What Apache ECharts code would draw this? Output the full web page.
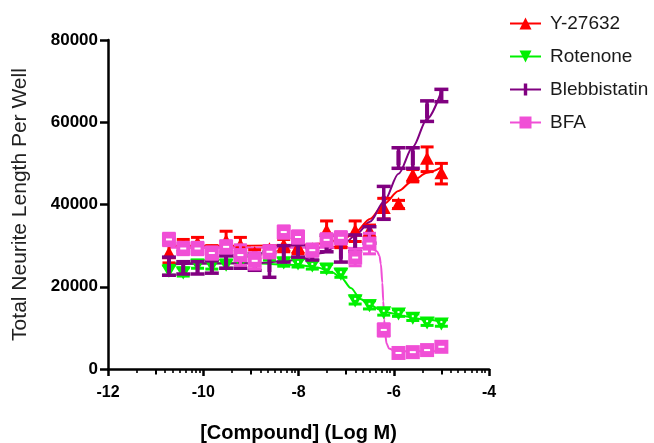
<!DOCTYPE html>
<html><head><meta charset="utf-8">
<script src="https://cdn.jsdelivr.net/npm/echarts@6/dist/echarts.min.js"></script>
<style>html,body{margin:0;padding:0;background:#fff}#chart{width:654px;height:443px}</style>
</head><body><div id="chart"></div>
<script>
// ---- data (log M concentrations) ----
const logConc = [-10.72,-10.42,-10.12,-9.82,-9.52,-9.22,-8.92,-8.61,-8.31,-8.01,-7.71,-7.41,-7.11,-6.81,-6.51,-6.21,-5.90,-5.60,-5.30,-5.00];

const y27632    = [28000,30000,30500,28500,31000,30000,28000,29000,30000,29500,29000,33500,31000,33500,33500,39000,40000,47000,51000,47500];
const y27632Err = [2200,1500,1500,1500,2500,2000,1000,1000,1500,1500,1000,2500,1500,2500,1500,2500,1000,1500,3000,2500];

const rotenone    = [24000,23600,25500,25300,25500,26000,27000,27500,26000,25800,25300,24500,23300,16800,15600,13900,13600,12600,11400,11200];
const rotenoneErr = [1200,1000,1000,1000,1000,1000,1000,1000,1000,1000,1000,1000,1000,1000,1000,800,800,800,800,800];

const blebbistatin    = [25000,24600,24600,24800,26000,26000,26000,25300,28000,28700,28000,30500,28500,30600,32600,40400,51300,51300,62700,66500];
const blebbistatinErr = [2200,1500,1500,1500,1500,1500,2000,3000,2000,1500,1500,2000,2500,2000,2000,4000,2500,2500,2500,1500];

const bfa    = [31500,29300,29300,28200,29700,27700,26300,28500,33300,32100,28900,31400,31900,27100,30500,9500,3900,4100,4600,5400];
const bfaErr = [1500,1500,1500,1500,1500,2500,2000,1500,1500,1500,1500,1500,1500,2000,2500,1500,800,800,800,800];

// fitted curves
const y27632FitX = [-10.72,-9,-8,-7.5,-7.2,-7.0,-6.8,-6.5,-6.2,-5.9,-5.6,-5.3,-5.0];
const y27632FitY = [30000,30000,30100,30500,31300,32000,33300,36500,40200,43300,45800,47700,49000];

const rotenoneFitX = [-10.72,-9,-8,-7.6,-7.3,-7.1,-6.9,-6.7,-6.5,-6.3,-6.1,-5.8,-5.4,-5.0];
const rotenoneFitY = [25700,25700,25300,24700,23500,22200,19700,17000,15600,14500,13700,12900,12100,11600];

const blebFitX = [-10.72,-9,-8,-7.5,-7.2,-7.0,-6.8,-6.5,-6.2,-5.9,-5.6,-5.3,-5.0];
const blebFitY = [25500,25700,26500,28200,29800,30900,32600,35800,40800,47500,54000,60800,67500];

const bfaFitX = [-10.72,-8,-7,-6.6,-6.45,-6.35,-6.3,-6.27,-6.24,-6.22,-6.2,-6.18,-6.15,-6.1,-6.0,-5.8,-5.0];
const bfaFitY = [29500,29500,29500,29400,29200,28600,27500,25500,21000,16500,12000,8500,6200,5000,4500,4300,4300];

// axis ticks
const xLabelTicks = [-12,-10,-8,-6,-4];
const xMidTicks = [-11,-9,-7,-5];
const xMinorTicks = [-11.4,-10.8,-10.65,-10.5,-10.37,-10.25,-10.15,-10.08,
                     -9.4,-8.8,-8.65,-8.5,-8.37,-8.25,-8.15,-8.08,
                     -7.4,-6.8,-6.65,-6.5,-6.37,-6.25,-6.15,-6.08,
                     -5.4,-4.8,-4.65,-4.5,-4.37,-4.25,-4.15,-4.08];
const yTicks = [0,20000,40000,60000,80000];

const names = ['Y-27632','Rotenone','Blebbistatin','BFA'];
const colors = ['#ff0000','#00f000','#800080','#f04fd6'];

// ---- chart ----
const FONT = "'Liberation Sans', Arial, sans-serif";
const chart = echarts.init(document.getElementById('chart'));
const pts = (ys, es) => logConc.map((x,i)=>[x, ys[i], es[i]]);
const curve = (xs, ys) => xs.map((x,i)=>[x, ys[i]]);

function makeRender(color, kind){
  return function(params, api){
    const x = api.value(0), y = api.value(1), e = api.value(2);
    const c = api.coord([x,y]), t = api.coord([x,y+e]), b = api.coord([x,y-e]);
    const cw = kind==='bar' ? 7 : 6.5;
    const lw = kind==='bar' ? 3.5 : 3;
    const ch = [
      {type:'line', shape:{x1:c[0],y1:t[1],x2:c[0],y2:b[1]}, style:{stroke:color,lineWidth:lw}},
      {type:'line', shape:{x1:c[0]-cw,y1:t[1],x2:c[0]+cw,y2:t[1]}, style:{stroke:color,lineWidth:lw}},
      {type:'line', shape:{x1:c[0]-cw,y1:b[1],x2:c[0]+cw,y2:b[1]}, style:{stroke:color,lineWidth:lw}}
    ];
    if(kind==='up'){
      ch.push({type:'polygon', shape:{points:[[c[0],c[1]-7.5],[c[0]-7,c[1]+5.5],[c[0]+7,c[1]+5.5]]}, style:{fill:color}});
    } else if(kind==='down'){
      ch.push({type:'polygon', shape:{points:[[c[0]-7.5,c[1]-5.5],[c[0]+7.5,c[1]-5.5],[c[0],c[1]+7.5]]}, style:{fill:color}});
      ch.push({type:'rect', shape:{x:c[0]-1,y:c[1]-2,width:2,height:2}, style:{fill:'#fff'}});
    } else if(kind==='bar'){
      ch.push({type:'rect', shape:{x:c[0]-2,y:c[1]-7,width:4,height:14}, style:{fill:color}});
    } else {
      ch.push({type:'rect', shape:{x:c[0]-7,y:c[1]-7,width:14,height:14}, style:{fill:color}});
      ch.push({type:'rect', shape:{x:c[0]-3,y:c[1]-1,width:6,height:2}, style:{fill:'#fff'}});
    }
    return {type:'group', children:ch};
  };
}

function fitSeries(i, data, symbol, extra){
  return Object.assign({
    name: names[i], type:'line', data: data, showSymbol:false, symbol: symbol,
    symbolKeepAspect:true, smooth:0.3, smoothMonotone:'x',
    lineStyle:{color:colors[i], width:2}, itemStyle:{color:colors[i]},
    silent:true, z:2
  }, extra||{});
}
function ptSeries(i, data, kind){
  return {name: names[i]+' data', type:'custom', data:data, renderItem: makeRender(colors[i], kind),
    encode:{x:0,y:1}, clip:false, silent:true, z:3};
}

const xBase = {type:'value', min:-12, max:-4, interval:2, gridIndex:0, position:'bottom',
  splitLine:{show:false}};

chart.setOption({
  animation:false,
  backgroundColor:'#fff',
  grid:{left:108, right:165, top:40, bottom:74, containLabel:false, outerBoundsMode:'none'},
  legend:{
    data: names, orient:'vertical', left:504, top:9, itemWidth:31, itemHeight:15, itemGap:14,
    symbolKeepAspect:true,
    textStyle:{fontFamily:FONT, fontSize:19, color:'#1a1a1a', padding:[0,0,0,4]},
    selectedMode:false
  },
  xAxis:[
    Object.assign({}, xBase, {
      name:'[Compound] (Log M)', nameLocation:'middle', nameGap:54,
      nameTextStyle:{fontFamily:FONT, fontSize:20, fontWeight:'bold', color:'#000'},
      axisLine:{show:true, onZero:false, lineStyle:{color:'#000', width:2.5}},
      axisTick:{show:true, length:7, lineStyle:{color:'#000', width:2.5}, customValues:xLabelTicks},
      axisLabel:{fontFamily:FONT, fontSize:16, fontWeight:'bold', color:'#000', margin:16, customValues:xLabelTicks}
    }),
    Object.assign({}, xBase, {
      axisLine:{show:false, onZero:false},
      axisTick:{show:true, length:5.5, lineStyle:{color:'#000', width:2}, customValues:xMidTicks},
      axisLabel:{show:false}
    }),
    Object.assign({}, xBase, {
      axisLine:{show:false, onZero:false},
      axisTick:{show:true, length:4, lineStyle:{color:'#000', width:1.6}, customValues:xMinorTicks},
      axisLabel:{show:false}
    })
  ],
  yAxis:{
    type:'value', min:0, max:80000, interval:20000,
    name:'Total Neurite Length Per Well', nameLocation:'middle', nameGap:77,
    nameTextStyle:{fontFamily:FONT, fontSize:21, color:'#222'},
    splitLine:{show:false},
    axisLine:{show:true, lineStyle:{color:'#000', width:2.5}},
    axisTick:{show:true, length:8, lineStyle:{color:'#000', width:2.5}},
    axisLabel:{fontFamily:FONT, fontSize:17, fontWeight:'bold', color:'#000', margin:10,
      customValues:yTicks, formatter: v => String(v)}
  },
  series:[
    fitSeries(0, curve(y27632FitX, y27632FitY), 'triangle'),
    ptSeries(0, pts(y27632, y27632Err), 'up'),
    fitSeries(1, curve(rotenoneFitX, rotenoneFitY), 'triangle', {symbolRotate:180}),
    ptSeries(1, pts(rotenone, rotenoneErr), 'down'),
    fitSeries(2, curve(blebFitX, blebFitY), 'path://M0,0M14,14M5,0H9V14H5Z'),
    ptSeries(2, pts(blebbistatin, blebbistatinErr), 'bar'),
    fitSeries(3, curve(bfaFitX, bfaFitY), 'rect'),
    ptSeries(3, pts(bfa, bfaErr), 'square')
  ]
});
</script></body></html>
